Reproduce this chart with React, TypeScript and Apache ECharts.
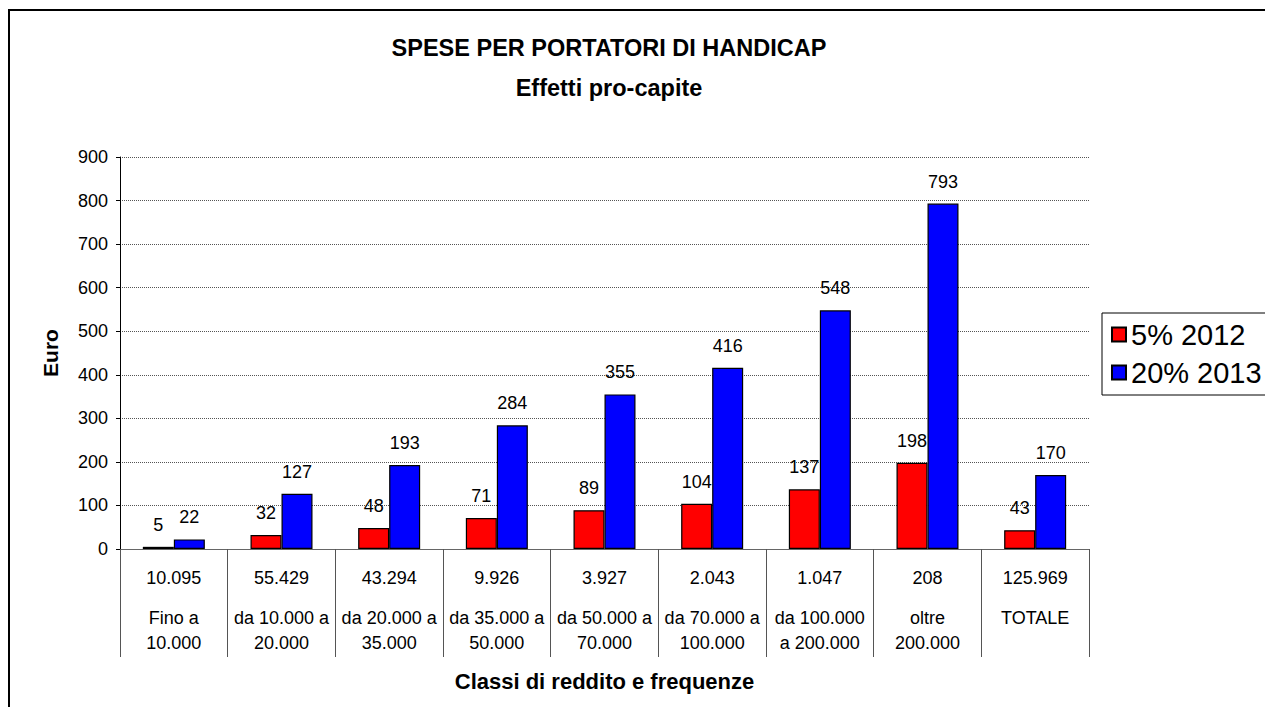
import React, { useEffect, useRef } from "react";
import * as echarts from "echarts";

const classes = [
  "Fino a\n10.000",
  "da 10.000 a\n20.000",
  "da 20.000 a\n35.000",
  "da 35.000 a\n50.000",
  "da 50.000 a\n70.000",
  "da 70.000 a\n100.000",
  "da 100.000\na 200.000",
  "oltre\n200.000",
  "TOTALE",
];
const frequencies = ["10.095", "55.429", "43.294", "9.926", "3.927", "2.043", "1.047", "208", "125.969"];
const values2012 = [5, 32, 48, 71, 89, 104, 137, 198, 43];
const values2013 = [22, 127, 193, 284, 355, 416, 548, 793, 170];
const seriesNames = ["5% 2012", "20% 2013"];
const yTicks = { min: 0, max: 900, interval: 100 };

const FONT = "'Liberation Sans', Arial, sans-serif";

export default function App() {
  const ref = useRef<HTMLDivElement>(null);
  useEffect(() => {
    if (!ref.current) return;
    const chart = echarts.init(ref.current, undefined, { renderer: "svg" });
    chart.setOption({
      animation: false,
      backgroundColor: "#fff",
      textStyle: { fontFamily: FONT },
      title: {
        text: "SPESE PER PORTATORI DI HANDICAP",
        subtext: "Effetti pro-capite",
        left: 596,
        textAlign: "center",
        top: 23,
        itemGap: 16,
        textStyle: { fontFamily: FONT, fontSize: 23.5, fontWeight: "bold", color: "#000" },
        subtextStyle: { fontFamily: FONT, fontSize: 23.5, fontWeight: "bold", color: "#000" },
      },
      graphic: [
        {
          type: "rect",
          shape: { x: 1, y: 2, width: 3000, height: 3000 },
          style: { fill: "none", stroke: "#000", lineWidth: 2 },
          silent: true,
        },
      ],
      legend: {
        orient: "vertical",
        left: 1094,
        top: 305,
        data: seriesNames,
        itemWidth: 14,
        itemHeight: 14,
        itemGap: 9,
        padding: [7, 7, 8, 9],
        borderColor: "#000",
        borderWidth: 1,
        icon: "rect",
        textStyle: { fontFamily: FONT, fontSize: 29, color: "#000" },
      },
      grid: { left: 112, right: 176, top: 149, bottom: 158, containLabel: false },
      xAxis: {
        type: "category",
        data: classes,
        name: "Classi di reddito e frequenze",
        nameLocation: "middle",
        nameGap: 121,
        nameTextStyle: { fontFamily: FONT, fontSize: 22, fontWeight: "bold", color: "#000" },
        axisLine: { lineStyle: { color: "#666", width: 1 } },
        axisTick: { show: true, interval: 0, length: 108, lineStyle: { color: "#555" } },
        axisLabel: {
          interval: 0,
          margin: 1,
          formatter: (value: string, idx: number) => `{f|${frequencies[idx]}}\n{c|${value}}`,
          rich: {
            f: { fontFamily: FONT, fontSize: 18, color: "#000", lineHeight: 55 },
            c: { fontFamily: FONT, fontSize: 18, color: "#000", lineHeight: 25 },
          },
        },
      },
      yAxis: {
        type: "value",
        min: yTicks.min,
        max: yTicks.max,
        interval: yTicks.interval,
        name: "Euro",
        nameLocation: "middle",
        nameGap: 59,
        nameRotate: 90,
        nameTextStyle: { fontFamily: FONT, fontSize: 21, fontWeight: "bold", color: "#000" },
        axisLine: { show: true, lineStyle: { color: "#000", width: 1 } },
        axisTick: { show: true, length: 4, lineStyle: { color: "#000" } },
        axisLabel: { fontFamily: FONT, fontSize: 18, color: "#000", margin: 12 },
        splitLine: { show: true, lineStyle: { color: "#555", type: [1, 1], width: 1 } },
      },
      series: [
        {
          name: seriesNames[0],
          type: "bar",
          data: values2012,
          barWidth: 31,
          barGap: "0%",
          itemStyle: { color: "#ff0000", borderColor: "#000", borderWidth: 1.2 },
          label: { show: true, position: "top", distance: 13, fontFamily: FONT, fontSize: 18, color: "#000" },
        },
        {
          name: seriesNames[1],
          type: "bar",
          data: values2013,
          barWidth: 31,
          barGap: "0%",
          itemStyle: { color: "#0000ff", borderColor: "#000", borderWidth: 1.2 },
          label: { show: true, position: "top", distance: 13, fontFamily: FONT, fontSize: 18, color: "#000" },
        },
      ],
    });
    return () => chart.dispose();
  }, []);
  return <div ref={ref} style={{ width: 1257, height: 699 }} />;
}
